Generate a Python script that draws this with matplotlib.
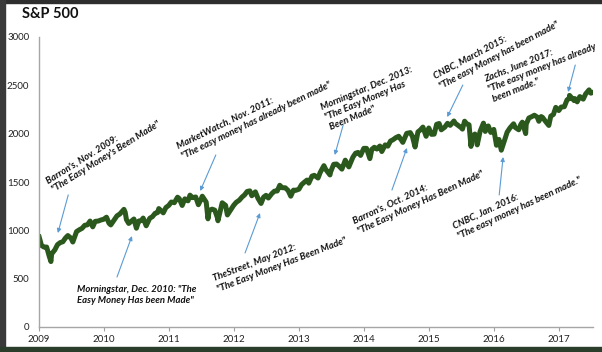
import pandas as pd
import matplotlib.pyplot as plt
from matplotlib.patches import Rectangle

plt.rcParams['font.family'] = ['Lato', 'DejaVu Sans']

# S&P 500, approx. levels
dates = [
    '2009-01-02', '2009-01-15', '2009-01-30', '2009-02-13', '2009-02-27', '2009-03-09', '2009-03-13', '2009-03-31',
    '2009-04-15', '2009-04-30', '2009-05-15', '2009-05-29', '2009-06-12', '2009-06-30', '2009-07-10', '2009-07-31',
    '2009-08-14', '2009-08-31', '2009-09-15', '2009-09-30', '2009-10-15', '2009-10-30', '2009-11-13', '2009-11-30',
    '2009-12-15', '2009-12-31',
    '2010-01-15', '2010-01-29', '2010-02-08', '2010-02-26', '2010-03-15', '2010-03-31', '2010-04-23', '2010-04-30',
    '2010-05-07', '2010-05-20', '2010-05-31', '2010-06-18', '2010-07-02', '2010-07-15', '2010-07-30', '2010-08-09',
    '2010-08-26', '2010-09-15', '2010-09-30', '2010-10-15', '2010-10-29', '2010-11-05', '2010-11-30', '2010-12-15',
    '2010-12-31',
    '2011-01-14', '2011-01-31', '2011-02-18', '2011-02-28', '2011-03-16', '2011-03-31', '2011-04-18', '2011-04-29',
    '2011-05-13', '2011-05-31', '2011-06-15', '2011-06-30', '2011-07-07', '2011-07-29', '2011-08-08', '2011-08-15',
    '2011-08-31', '2011-09-15', '2011-09-30', '2011-10-03', '2011-10-27', '2011-11-15', '2011-11-25', '2011-12-15',
    '2011-12-30',
    '2012-01-13', '2012-01-31', '2012-02-15', '2012-02-29', '2012-03-15', '2012-03-30', '2012-04-10', '2012-04-30',
    '2012-05-15', '2012-06-01', '2012-06-15', '2012-06-29', '2012-07-12', '2012-07-31', '2012-08-15', '2012-08-31',
    '2012-09-14', '2012-09-28', '2012-10-15', '2012-10-31', '2012-11-15', '2012-11-30', '2012-12-14', '2012-12-31',
    '2013-01-15', '2013-01-31', '2013-02-15', '2013-02-25', '2013-03-15', '2013-03-28', '2013-04-18', '2013-04-30',
    '2013-05-21', '2013-05-31', '2013-06-24', '2013-06-28', '2013-07-15', '2013-07-31', '2013-08-15', '2013-08-30',
    '2013-09-18', '2013-09-30', '2013-10-08', '2013-10-31', '2013-11-15', '2013-11-29', '2013-12-13', '2013-12-31',
    '2014-01-15', '2014-02-03', '2014-02-14', '2014-02-28', '2014-03-14', '2014-03-31', '2014-04-11', '2014-04-30',
    '2014-05-15', '2014-05-30', '2014-06-13', '2014-06-30', '2014-07-15', '2014-07-31', '2014-08-07', '2014-08-29',
    '2014-09-18', '2014-09-30', '2014-10-15', '2014-10-31', '2014-11-14', '2014-11-28', '2014-12-16', '2014-12-31',
    '2015-01-15', '2015-01-30', '2015-02-13', '2015-02-27', '2015-03-11', '2015-03-31', '2015-04-15', '2015-04-30',
    '2015-05-21', '2015-05-29', '2015-06-15', '2015-06-30', '2015-07-08', '2015-07-20', '2015-07-31', '2015-08-14',
    '2015-08-25', '2015-08-31', '2015-09-16', '2015-09-29', '2015-10-15', '2015-11-03', '2015-11-13', '2015-11-30',
    '2015-12-14', '2015-12-31',
    '2016-01-15', '2016-01-29', '2016-02-11', '2016-02-29', '2016-03-15', '2016-03-31', '2016-04-20', '2016-04-29',
    '2016-05-19', '2016-05-31', '2016-06-08', '2016-06-27', '2016-06-30', '2016-07-15', '2016-07-29', '2016-08-15',
    '2016-08-31', '2016-09-09', '2016-09-22', '2016-09-30', '2016-10-14', '2016-11-04', '2016-11-15', '2016-11-30',
    '2016-12-13', '2016-12-30',
    '2017-01-13', '2017-01-31', '2017-02-15', '2017-02-28', '2017-03-01', '2017-03-27', '2017-03-31', '2017-04-13',
    '2017-04-28', '2017-05-17', '2017-05-31', '2017-06-19', '2017-06-29', '2017-07-10',
]
spx = [
    931, 843, 826, 827, 735, 677, 756, 798,
    852, 873, 882, 919, 946, 919, 879, 987,
    1004, 1021, 1052, 1057, 1096, 1036, 1093, 1096,
    1107, 1115,
    1136, 1074, 1056, 1104, 1150, 1169, 1217, 1187,
    1111, 1071, 1089, 1117, 1022, 1096, 1102, 1127,
    1047, 1125, 1141, 1176, 1183, 1225, 1181, 1236,
    1258,
    1293, 1286, 1343, 1327, 1257, 1326, 1305, 1364,
    1338, 1345, 1265, 1321, 1353, 1292, 1119, 1204,
    1219, 1209, 1131, 1099, 1285, 1258, 1159, 1216,
    1258,
    1289, 1312, 1344, 1366, 1402, 1408, 1358, 1398,
    1330, 1278, 1343, 1362, 1334, 1379, 1405, 1407,
    1466, 1441, 1440, 1412, 1353, 1416, 1414, 1426,
    1472, 1498, 1520, 1488, 1561, 1569, 1541, 1598,
    1669, 1631, 1573, 1606, 1683, 1686, 1662, 1633,
    1726, 1682, 1656, 1757, 1798, 1806, 1775, 1848,
    1848, 1742, 1838, 1859, 1841, 1872, 1815, 1884,
    1871, 1924, 1937, 1960, 1973, 1931, 1910, 2003,
    2011, 1972, 1862, 2018, 2039, 2068, 1973, 2059,
    1993, 1995, 2097, 2105, 2040, 2068, 2107, 2086,
    2131, 2107, 2084, 2063, 2047, 2129, 2104, 2092,
    1868, 1972, 1996, 1884, 2023, 2109, 2023, 2080,
    2013, 2044,
    1880, 1940, 1829, 1932, 2016, 2060, 2102, 2065,
    2040, 2097, 2119, 2001, 2099, 2162, 2174, 2191,
    2171, 2128, 2177, 2168, 2133, 2085, 2181, 2199,
    2272, 2239,
    2275, 2279, 2349, 2364, 2396, 2342, 2363, 2329,
    2384, 2357, 2412, 2453, 2419, 2427,
]

years = list(range(2009, 2018))
yticks = [0, 500, 1000, 1500, 2000, 2500, 3000]

# annotations: text, start of its last line (year, level), rotation, arrow start, arrow tip
notes = [
    ("Barron's, Nov. 2009:\n\"The Easy Money's Been Made\"", (2009.215, 1407), 32, (2009.45, 1366), (2009.29, 972)),
    ("MarketWatch, Nov. 2011:\n\"The easy money has already been made\"", (2011.20, 1759), 26, (2011.72, 1779), (2011.48, 1407)),
    ("Morningstar, Dec. 2013:\n\"The Easy Money Has\nBeen Made\"", (2013.477, 2055), 23, (2013.68, 2090), (2013.55, 1779)),
    ("CNBC, March 2015:\n\"The easy Money has been made\"", (2015.17, 2483), 28, (2015.52, 2503), (2015.28, 2172)),
    ("Zachs, June 2017:\n\"The easy money has already\nbeen made.\"", (2015.985, 2348), 22, (2017.25, 2710), (2017.14, 2431)),
    ("Morningstar, Dec. 2010: \"The\nEasy Money Has been Made\"", (2009.585, 269), 0, (2010.20, 517), (2010.43, 941)),
    ("TheStreet, May 2012:\n\"The Easy Money Has Been Made\"", (2011.74, 383), 21, (2012.17, 766), (2012.40, 1179)),
    ("Barron's, Oct. 2014:\n\"The Easy Money Has Been Made\"", (2013.91, 983), 25, (2014.43, 1417), (2014.66, 1852)),
    ("CNBC, Jan. 2016:\n\"The easy money has been made.\"", (2015.45, 931), 25, (2016.08, 1366), (2016.14, 1759)),
]

d = pd.to_datetime(pd.Series(dates))
x = d.dt.year + (d.dt.dayofyear - 1) / 365.25

fig = plt.figure(figsize=(6.02, 3.52), dpi=100)
ax = fig.add_axes([39 / 602, 1 - 327 / 352, (593 - 39) / 602, (327 - 37) / 352])

ax.plot(x, spx, color='#2b581d', lw=3.6, solid_joinstyle='round')

ax.set_xlim(2009, 2009 + 554 / 65)
ax.set_ylim(0, 3000)
ax.set_xticks(years)
ax.set_xticklabels([str(y) for y in years], fontsize=7, color='#222222')
ax.set_yticks(yticks)
ax.set_yticklabels([str(v) for v in yticks], fontsize=7, color='#222222')
ax.tick_params(axis='y', length=0, pad=7)
ax.tick_params(axis='x', length=3, width=0.8, color='#a0a0a0', direction='out', pad=3)
for s in ['top', 'right']:
    ax.spines[s].set_visible(False)
for s in ['left', 'bottom']:
    ax.spines[s].set_color('#a6a6a6')
    ax.spines[s].set_linewidth(1)

for txt, pos, rot, a0, a1 in notes:
    ax.text(pos[0], pos[1], txt, rotation=rot, rotation_mode='anchor', ha='left', va='baseline',
            fontsize=6.8, fontweight='bold', fontstyle='italic', linespacing=1.3, color='#111111')
    ax.annotate('', xy=a1, xytext=a0,
                arrowprops=dict(arrowstyle='-|>', color='#5b9bd5', lw=0.8, mutation_scale=6,
                                shrinkA=0, shrinkB=0))

fig.text(22 / 602, 1 - 18 / 352, 'S&P 500', fontsize=10.5, fontweight='bold', color='#111111', va='baseline')

# screenshot frame
fig.patches.append(Rectangle((0, 1 - 3 / 352), 1, 3 / 352, transform=fig.transFigure, color='#2e2e2e', zorder=5))
fig.patches.append(Rectangle((0, 0), 5 / 602, 1, transform=fig.transFigure, color='#3a3a3a', zorder=5))
fig.patches.append(Rectangle((0, 0), 1, 5 / 352, transform=fig.transFigure, color='#2b3d2b', zorder=5))

fig.savefig('out.png', dpi=100)
